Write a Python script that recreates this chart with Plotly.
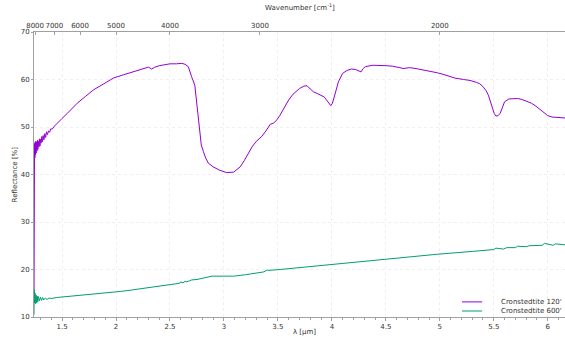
import plotly.graph_objects as go

# Cronstedtite 120' (purple)
lam_120 = [1.240, 1.242, 1.245, 1.248, 1.251, 1.254, 1.257, 1.260, 1.264, 1.268, 1.272, 1.276,
           1.280, 1.285, 1.290, 1.295, 1.300, 1.306, 1.312, 1.318, 1.325, 1.332, 1.340, 1.348,
           1.356, 1.365, 1.375, 1.385, 1.395, 1.41, 1.43, 1.45, 1.50, 1.55, 1.64, 1.72, 1.79,
           1.88, 1.975, 2.07, 2.16, 2.24, 2.30, 2.33, 2.36, 2.40, 2.45, 2.50, 2.56, 2.61, 2.64,
           2.67, 2.70, 2.73, 2.76, 2.79, 2.81, 2.83, 2.855, 2.90, 2.96, 3.025, 3.09, 3.15, 3.19,
           3.225, 3.26, 3.30, 3.35, 3.39, 3.43, 3.46, 3.49, 3.52, 3.56, 3.60, 3.64, 3.67, 3.70,
           3.74, 3.77, 3.80, 3.83, 3.87, 3.90, 3.93, 3.95, 3.975, 3.99, 4.005, 4.02, 4.04, 4.06,
           4.08, 4.10, 4.14, 4.18, 4.22, 4.25, 4.27, 4.29, 4.31, 4.38, 4.45, 4.51, 4.56, 4.60,
           4.63, 4.66, 4.69, 4.72, 4.78, 4.85, 4.91, 4.98, 5.03, 5.08, 5.14, 5.22, 5.28, 5.34,
           5.37, 5.40, 5.43, 5.45, 5.47, 5.49, 5.505, 5.52, 5.54, 5.56, 5.58, 5.60, 5.64, 5.68,
           5.72, 5.76, 5.80, 5.85, 5.89, 5.93, 5.97, 6.00, 6.04, 6.08, 6.14, 6.16]
refl_120 = [14.0, 44.0, 46.5, 43.5, 46.8, 44.2, 47.0, 44.5, 46.8, 45.0, 47.2, 45.3,
            47.0, 45.8, 47.5, 46.0, 47.4, 46.6, 48.0, 46.9, 48.2, 47.3, 48.6, 47.8,
            49.0, 48.4, 49.2, 48.9, 49.6, 49.6, 50.2, 50.7, 51.8, 52.9, 55.0, 56.5, 57.8,
            59.0, 60.3, 61.0, 61.6, 62.2, 62.6, 62.2, 62.6, 62.9, 63.1, 63.3, 63.3, 63.4, 63.2,
            62.7, 60.6, 58.8, 52.5, 46.2, 44.8, 43.5, 42.4, 41.6, 40.9, 40.4, 40.5, 41.6, 43.0,
            44.5, 45.8, 47.0, 48.0, 49.2, 50.6, 50.8, 51.5, 52.5, 54.2, 55.7, 56.9, 57.6, 58.1,
            58.6, 58.7, 58.0, 57.4, 57.0, 56.7, 56.3, 55.7, 55.0, 54.5, 55.0, 56.0, 57.8, 59.5,
            60.5, 61.3, 61.9, 62.2, 62.1, 61.8, 61.6, 62.3, 62.7, 63.0, 63.0, 62.9, 62.8, 62.7,
            62.5, 62.3, 62.4, 62.5, 62.3, 62.0, 61.8, 61.4, 61.1, 60.8, 60.3, 60.0, 59.8, 59.4,
            59.1, 58.5, 57.6, 56.7, 55.2, 53.6, 52.8, 52.3, 52.4, 52.9, 54.2, 55.3, 55.9, 56.0,
            56.0, 55.8, 55.5, 55.0, 54.4, 53.6, 52.9, 52.4, 52.1, 52.0, 52.0, 51.9]

# Cronstedtite 600' (green)
lam_600 = [1.240, 1.242, 1.245, 1.250, 1.255, 1.260, 1.265, 1.270, 1.275, 1.280, 1.290, 1.300,
           1.310, 1.320, 1.330, 1.345, 1.360, 1.380, 1.400, 1.450, 1.500, 1.600, 1.700, 1.775,
           1.900, 2.050, 2.150, 2.300, 2.450, 2.550, 2.590, 2.600, 2.620, 2.640, 2.650, 2.680,
           2.700, 2.750, 2.820, 2.890, 3.000, 3.090, 3.200, 3.300, 3.370, 3.400, 3.410, 3.520,
           3.830, 4.140, 4.440, 4.970, 5.300, 5.500, 5.520, 5.590, 5.620, 5.700, 5.720, 5.800,
           5.830, 5.890, 5.950, 5.970, 6.050, 6.070, 6.160]
refl_600 = [10.5, 15.8, 13.0, 15.0, 12.8, 14.6, 13.0, 14.4, 13.2, 14.3, 13.4, 14.2,
            13.5, 14.1, 13.6, 14.0, 13.7, 14.0, 13.9, 14.1, 14.2, 14.4, 14.6, 14.8,
            15.1, 15.4, 15.7, 16.2, 16.7, 17.0, 17.1, 17.4, 17.2, 17.5, 17.4, 17.6,
            17.8, 17.9, 18.3, 18.6, 18.6, 18.6, 18.9, 19.2, 19.5, 19.9, 19.8, 20.0,
            20.7, 21.4, 22.0, 23.2, 23.8, 24.2, 24.5, 24.3, 24.6, 24.6, 24.9, 24.8,
            25.0, 25.0, 25.1, 25.5, 25.1, 25.4, 25.2]

series_names = ["Cronstedtite 120'", "Cronstedtite 600'"]
series_colors = ["#9400D3", "#009E73"]

wavenumbers = [8000, 7000, 6000, 5000, 4000, 3000, 2000]
x_ticks = [1.5, 2, 2.5, 3, 3.5, 4, 4.5, 5, 5.5, 6]
y_ticks = [10, 20, 30, 40, 50, 60, 70]

x_range = [1.24, 6.16]
y_range = [10, 70]

FS = 7
txt_col = "#333333"
font = dict(family="DejaVu Sans", size=FS, color=txt_col)
axis_col = "#a0a0a0"
grid_col = "#efefef"

fig = go.Figure()
for xs, ys, nm, col in [(lam_120, refl_120, series_names[0], series_colors[0]),
                        (lam_600, refl_600, series_names[1], series_colors[1])]:
    fig.add_trace(go.Scatter(x=xs, y=ys, mode="lines", name=nm,
                             line=dict(color=col, width=1), showlegend=False))
# helper invisible trace to carry the top (wavenumber) axis
fig.add_trace(go.Scatter(x=x_range, y=y_range, xaxis="x2", mode="lines",
                         line=dict(width=0), showlegend=False, hoverinfo="skip", opacity=0))

# compact legend (bottom right), drawn as short lines + text labels
leg_rows_y = [0.053, 0.021]
for nm, col, yy in zip(series_names, series_colors, leg_rows_y):
    fig.add_shape(type="line", xref="paper", yref="paper", x0=0.806, x1=0.844, y0=yy, y1=yy,
                  line=dict(color=col, width=1))
    fig.add_annotation(xref="paper", yref="paper", x=0.9985, y=yy, text=nm, showarrow=False,
                       xanchor="right", yanchor="middle", font=dict(size=FS, color=txt_col))

# axis titles
fig.add_annotation(xref="paper", yref="paper", x=0.51, y=-0.053, text="λ [µm]", showarrow=False,
                   xanchor="center", yanchor="middle", font=dict(size=FS, color=txt_col))
fig.add_annotation(xref="paper", yref="paper", x=0.5, y=1.088, text="Wavenumber [cm<sup>-1</sup>]",
                   showarrow=False, xanchor="center", yanchor="middle",
                   font=dict(size=FS, color=txt_col))
fig.add_annotation(xref="paper", yref="paper", x=-0.036, y=0.5, text="Reflectance [%]",
                   showarrow=False, textangle=-90, xanchor="center", yanchor="middle",
                   font=dict(size=FS, color=txt_col))

fig.update_layout(
    width=565, height=337,
    margin=dict(l=34, r=0, t=32, b=20),
    paper_bgcolor="white", plot_bgcolor="white",
    font=font,
    showlegend=False,
    xaxis=dict(range=x_range, tickvals=x_ticks, ticktext=[str(v) for v in x_ticks],
               automargin=False, tickangle=0,
               showline=True, linecolor=axis_col, linewidth=1, mirror=False,
               ticks="outside", ticklen=3, tickcolor=axis_col,
               minor=dict(dtick=0.1, ticks="outside", ticklen=2, tickcolor=axis_col, showgrid=False),
               showgrid=True, gridcolor=grid_col, griddash="dot", gridwidth=1,
               zeroline=False),
    xaxis2=dict(range=x_range, overlaying="x", side="top", anchor="y", automargin=False,
                tickangle=0,
                tickvals=[10000 / w for w in wavenumbers], ticktext=[str(w) for w in wavenumbers],
                showline=True, linecolor=axis_col, linewidth=1,
                ticks="inside", ticklen=3, tickcolor=axis_col, showgrid=False, zeroline=False),
    yaxis=dict(range=y_range, tickvals=y_ticks, showline=True, linecolor=axis_col, linewidth=1,
               automargin=False,
               ticks="outside", ticklen=2, tickcolor=axis_col,
               showgrid=True, gridcolor=grid_col, griddash="dot", zeroline=False),
)

fig.write_html("out.html", config={"displayModeBar": False},
               post_script="document.body.style.margin='0';document.body.style.overflow='hidden';")
